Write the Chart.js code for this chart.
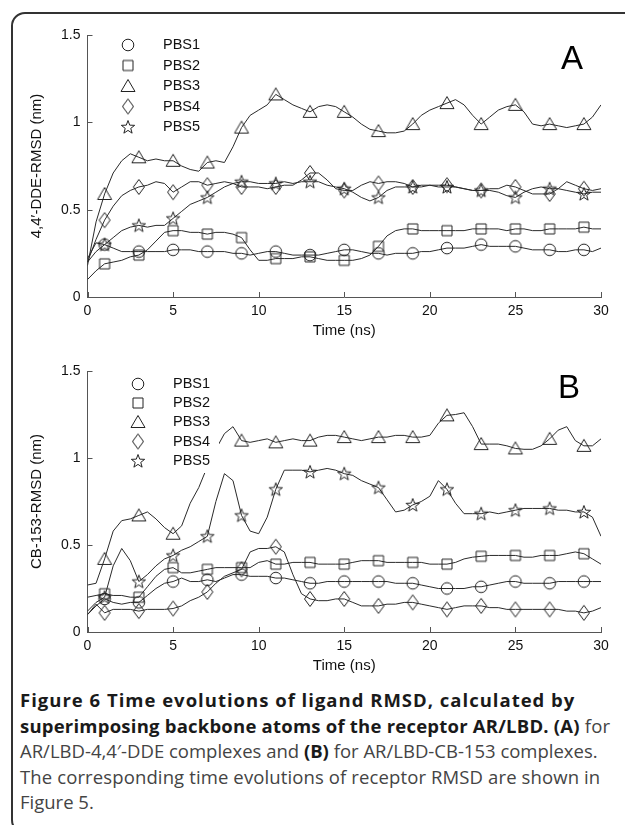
<!DOCTYPE html>
<html>
<head>
<meta charset="utf-8">
<script src="https://cdn.jsdelivr.net/npm/chart.js@4.4.1/dist/chart.umd.min.js"></script>
<style>
  html, body { margin: 0; padding: 0; background: #fff; }
  body { width: 625px; height: 825px; position: relative; overflow: hidden; }
  #frame {
    position: absolute; left: 11px; top: 12px; width: 700px; height: 818px;
    border: 2px solid #333; border-radius: 14px;
  }
  canvas { position: absolute; left: 0; }
  #chartA { top: 0; }
  #chartB { top: 345px; }
  #caption {
    position: absolute; left: 20px; top: 687px;
    font-family: "Open Sans", sans-serif; font-size: 18.5px; line-height: 25.5px;
    color: #444; white-space: nowrap;
  }
  #caption b { color: #1a1a1a; font-weight: 700; }
  #caption .l1 { letter-spacing: 1px; }
  #caption .l2 { letter-spacing: 0.22px; }
  #caption .l4 { letter-spacing: 0.12px; }
</style>
</head>
<body>
<div id="frame"></div>
<canvas id="chartA" width="625" height="345"></canvas>
<canvas id="chartB" width="625" height="335"></canvas>
<div id="caption">
<span class="l1"><b>Figure 6 Time evolutions of ligand RMSD, calculated by</b></span><br>
<span class="l2"><b>superimposing backbone atoms of the receptor AR/LBD. (A)</b> for</span><br>
<span class="l3">AR/LBD-4,4′-DDE complexes and <b>(B)</b> for AR/LBD-CB-153 complexes.</span><br>
<span class="l4">The corresponding time evolutions of receptor RMSD are shown in</span><br>
<span class="l5">Figure 5.</span>
</div>
<script>
// sampling times (ns)
const TIME = [
  0, 0.5, 1, 1.5, 2, 2.5, 3, 3.5, 4, 4.5,
  5, 5.5, 6, 6.5, 7, 7.5, 8, 8.5, 9, 9.5,
  10, 10.5, 11, 11.5, 12, 12.5, 13, 13.5, 14, 14.5,
  15, 15.5, 16, 16.5, 17, 17.5, 18, 18.5, 19, 19.5,
  20, 20.5, 21, 21.5, 22, 22.5, 23, 23.5, 24, 24.5,
  25, 25.5, 26, 26.5, 27, 27.5, 28, 28.5, 29, 29.5,
  30
];
const MARKER_TIMES = [1, 3, 5, 7, 9, 11, 13, 15, 17, 19, 21, 23, 25, 27, 29];
const SERIES_LABELS = ['PBS1', 'PBS2', 'PBS3', 'PBS4', 'PBS5'];
const X_TICKS = [0, 5, 10, 15, 20, 25, 30];
const Y_TICKS = [0, 0.5, 1, 1.5];

// Panel A: 4,4'-DDE
const A_PBS1 = [
  0.22, 0.31, 0.30, 0.28, 0.26, 0.26, 0.26, 0.26, 0.26, 0.26,
  0.27, 0.27, 0.27, 0.26, 0.26, 0.26, 0.26, 0.25, 0.25, 0.24,
  0.25, 0.26, 0.26, 0.25, 0.24, 0.24, 0.24, 0.24, 0.25, 0.26,
  0.27, 0.27, 0.26, 0.25, 0.25, 0.24, 0.25, 0.25, 0.25, 0.26,
  0.26, 0.27, 0.28, 0.28, 0.28, 0.29, 0.30, 0.29, 0.29, 0.29,
  0.29, 0.28, 0.27, 0.27, 0.27, 0.26, 0.26, 0.27, 0.27, 0.26,
  0.28
];
const A_PBS2 = [
  0.10, 0.15, 0.19, 0.20, 0.21, 0.23, 0.24, 0.27, 0.32, 0.37,
  0.38, 0.38, 0.37, 0.37, 0.36, 0.37, 0.37, 0.36, 0.34, 0.27,
  0.21, 0.21, 0.22, 0.22, 0.22, 0.23, 0.23, 0.22, 0.21, 0.21,
  0.21, 0.21, 0.22, 0.24, 0.29, 0.35, 0.38, 0.39, 0.39, 0.38,
  0.38, 0.38, 0.38, 0.38, 0.38, 0.39, 0.39, 0.39, 0.39, 0.38,
  0.39, 0.39, 0.38, 0.38, 0.39, 0.39, 0.39, 0.39, 0.40, 0.39,
  0.39
];
const A_PBS3 = [
  0.18, 0.43, 0.59, 0.71, 0.78, 0.82, 0.80, 0.78, 0.79, 0.78,
  0.78, 0.75, 0.73, 0.72, 0.77, 0.78, 0.77, 0.86, 0.97, 1.04,
  1.07, 1.10, 1.16, 1.13, 1.10, 1.08, 1.06, 1.09, 1.10, 1.09,
  1.06, 1.03, 0.99, 0.96, 0.95, 0.94, 0.94, 0.95, 0.99, 1.04,
  1.07, 1.09, 1.11, 1.13, 1.10, 1.04, 0.99, 1.03, 1.07, 1.09,
  1.10, 1.06, 0.99, 0.98, 0.99, 0.98, 0.97, 0.98, 0.99, 1.03,
  1.10
];
const A_PBS4 = [
  0.20, 0.33, 0.44, 0.52, 0.58, 0.61, 0.63, 0.64, 0.66, 0.65,
  0.60, 0.63, 0.66, 0.66, 0.64, 0.65, 0.66, 0.65, 0.63, 0.63,
  0.63, 0.62, 0.63, 0.64, 0.64, 0.67, 0.71, 0.71, 0.67, 0.62,
  0.61, 0.61, 0.64, 0.66, 0.65, 0.66, 0.66, 0.65, 0.63, 0.63,
  0.64, 0.64, 0.64, 0.63, 0.62, 0.61, 0.61, 0.62, 0.62, 0.64,
  0.63, 0.61, 0.59, 0.59, 0.59, 0.62, 0.66, 0.64, 0.62, 0.61,
  0.62
];
const A_PBS5 = [
  0.20, 0.26, 0.30, 0.34, 0.38, 0.40, 0.41, 0.40, 0.41, 0.41,
  0.45, 0.49, 0.53, 0.55, 0.57, 0.60, 0.63, 0.65, 0.66, 0.66,
  0.65, 0.65, 0.65, 0.66, 0.65, 0.66, 0.66, 0.66, 0.64, 0.63,
  0.62, 0.60, 0.57, 0.55, 0.57, 0.61, 0.63, 0.63, 0.63, 0.64,
  0.64, 0.63, 0.63, 0.63, 0.62, 0.61, 0.61, 0.61, 0.60, 0.58,
  0.57, 0.60, 0.62, 0.63, 0.62, 0.62, 0.61, 0.60, 0.59, 0.60,
  0.60
];

// Panel B: CB-153
const B_PBS1 = [
  0.10, 0.15, 0.19, 0.17, 0.16, 0.17, 0.17, 0.21, 0.25, 0.28,
  0.29, 0.31, 0.29, 0.29, 0.30, 0.29, 0.31, 0.33, 0.33, 0.32,
  0.32, 0.32, 0.31, 0.31, 0.30, 0.29, 0.28, 0.28, 0.29, 0.29,
  0.29, 0.29, 0.29, 0.29, 0.29, 0.29, 0.28, 0.28, 0.28, 0.27,
  0.26, 0.25, 0.25, 0.25, 0.25, 0.26, 0.26, 0.27, 0.28, 0.29,
  0.29, 0.28, 0.28, 0.28, 0.28, 0.29, 0.29, 0.29, 0.29, 0.29,
  0.29
];
const B_PBS2 = [
  0.20, 0.21, 0.22, 0.21, 0.21, 0.20, 0.20, 0.26, 0.32, 0.36,
  0.37, 0.34, 0.34, 0.35, 0.36, 0.37, 0.37, 0.37, 0.37, 0.37,
  0.40, 0.41, 0.39, 0.39, 0.40, 0.40, 0.40, 0.39, 0.39, 0.39,
  0.39, 0.40, 0.41, 0.41, 0.41, 0.40, 0.40, 0.40, 0.40, 0.40,
  0.39, 0.39, 0.39, 0.40, 0.42, 0.43, 0.435, 0.44, 0.44, 0.44,
  0.44, 0.43, 0.43, 0.44, 0.44, 0.44, 0.45, 0.46, 0.45, 0.42,
  0.39
];
const B_PBS3 = [
  0.27, 0.28, 0.42, 0.58, 0.64, 0.65, 0.67, 0.69, 0.65, 0.60,
  0.565, 0.61, 0.74, 0.83, 0.95, 1.05, 1.14, 1.18, 1.10, 1.09,
  1.10, 1.11, 1.09, 1.10, 1.11, 1.10, 1.10, 1.12, 1.13, 1.13,
  1.12, 1.11, 1.10, 1.11, 1.12, 1.12, 1.13, 1.13, 1.12, 1.12,
  1.13, 1.20, 1.245, 1.25, 1.26, 1.18, 1.08, 1.08, 1.08, 1.07,
  1.055, 1.05, 1.05, 1.07, 1.11, 1.16, 1.18, 1.10, 1.07, 1.07,
  1.11
];
const B_PBS4 = [
  0.10, 0.16, 0.11, 0.13, 0.13, 0.13, 0.12, 0.13, 0.13, 0.13,
  0.135, 0.15, 0.18, 0.20, 0.23, 0.28, 0.32, 0.34, 0.36, 0.46,
  0.48, 0.48, 0.49, 0.46, 0.33, 0.22, 0.19, 0.18, 0.18, 0.19,
  0.19, 0.17, 0.15, 0.15, 0.15, 0.16, 0.16, 0.17, 0.17, 0.16,
  0.15, 0.14, 0.13, 0.14, 0.15, 0.15, 0.15, 0.14, 0.14, 0.13,
  0.13, 0.13, 0.13, 0.13, 0.13, 0.13, 0.12, 0.12, 0.11, 0.12,
  0.14
];
const B_PBS5 = [
  0.12, 0.17, 0.20, 0.38, 0.48, 0.41, 0.29, 0.33, 0.38, 0.42,
  0.44, 0.47, 0.49, 0.52, 0.55, 0.75, 0.91, 0.87, 0.67, 0.58,
  0.565, 0.66, 0.82, 0.93, 0.93, 0.93, 0.92, 0.93, 0.94, 0.93,
  0.91, 0.90, 0.87, 0.85, 0.83, 0.76, 0.69, 0.70, 0.73, 0.75,
  0.78, 0.87, 0.82, 0.74, 0.68, 0.68, 0.68, 0.69, 0.68, 0.69,
  0.70, 0.71, 0.71, 0.71, 0.71, 0.70, 0.70, 0.69, 0.69, 0.66,
  0.55
];

const LINE_COLOR = '#2a2a2a';
const MARK_COLOR = '#222';
const TEXT_COLOR = '#111';
const FONT = '"Liberation Sans", Arial, sans-serif';

// open marker glyphs drawn once, used as pointStyle
function makeMarker(kind) {
  const c = document.createElement('canvas');
  c.width = 20; c.height = 20;
  const g = c.getContext('2d');
  g.strokeStyle = MARK_COLOR;
  g.lineWidth = 1;
  g.beginPath();
  if (kind === 'circle') {
    g.arc(10, 10, 5.8, 0, Math.PI * 2);
  } else if (kind === 'square') {
    g.rect(5, 5, 10, 10);
  } else if (kind === 'triangle') {
    g.moveTo(10, 3.5); g.lineTo(17, 15.5); g.lineTo(3, 15.5); g.closePath();
  } else if (kind === 'diamond') {
    g.moveTo(10, 2.5); g.lineTo(15.5, 10); g.lineTo(10, 17.5); g.lineTo(4.5, 10); g.closePath();
  } else if (kind === 'star') {
    for (let i = 0; i < 10; i++) {
      const r = i % 2 ? 2.9 : 7;
      const a = -Math.PI / 2 + i * Math.PI / 5;
      const x = 10 + r * Math.cos(a), y = 10.5 + r * Math.sin(a);
      if (i === 0) g.moveTo(x, y); else g.lineTo(x, y);
    }
    g.closePath();
  }
  g.stroke();
  return c;
}
const MARKERS = ['circle', 'square', 'triangle', 'diamond', 'star'].map(makeMarker);

function markerRadius(c) {
  return MARKER_TIMES.includes(TIME[c.dataIndex]) ? 6 : 0;
}

// inward ticks, legend box and panel letter
const panelDecor = {
  id: 'panelDecor',
  afterDraw(chart, args, opts) {
    const ctx = chart.ctx;
    const xs = chart.scales.x, ys = chart.scales.y;
    const area = chart.chartArea;
    ctx.save();
    ctx.strokeStyle = '#555';
    ctx.lineWidth = 1;
    ctx.beginPath();
    X_TICKS.forEach(v => {
      const px = Math.round(xs.getPixelForValue(v)) + 0.5;
      ctx.moveTo(px, area.bottom); ctx.lineTo(px, area.bottom - 5);
    });
    Y_TICKS.forEach(v => {
      const py = Math.round(ys.getPixelForValue(v)) + 0.5;
      ctx.moveTo(area.left, py); ctx.lineTo(area.left + 5, py);
    });
    ctx.stroke();

    const lg = opts.legend;
    ctx.fillStyle = '#fff';
    ctx.fillRect(lg.box[0], lg.box[1], lg.box[2], lg.box[3]);
    ctx.fillStyle = TEXT_COLOR;
    ctx.font = '14.5px ' + FONT;
    ctx.textBaseline = 'middle';
    ctx.textAlign = 'left';
    chart.data.datasets.forEach((ds, i) => {
      const y = lg.rows[i];
      ctx.drawImage(MARKERS[i], lg.symX - 10, y - 10);
      ctx.fillText(ds.label, lg.textX, y);
    });

    ctx.fillStyle = '#000';
    ctx.font = '33px ' + FONT;
    ctx.textAlign = 'center';
    ctx.fillText(opts.letter, opts.letterX, opts.letterY);
    ctx.restore();
  }
};

function makePanel(id, series, yTitle, topPad, decor) {
  const datasets = series.map((vals, i) => ({
    label: SERIES_LABELS[i],
    data: TIME.map((t, k) => ({ x: t, y: vals[k] })),
    borderColor: LINE_COLOR,
    borderWidth: 1,
    tension: 0,
    pointStyle: MARKERS[i],
    pointRadius: markerRadius,
    pointHoverRadius: markerRadius,
    pointHitRadius: 0
  }));
  return new Chart(document.getElementById(id), {
    type: 'line',
    data: { datasets },
    plugins: [panelDecor],
    options: {
      responsive: false,
      animation: false,
      events: [],
      layout: { padding: { top: topPad, right: 24, bottom: 0, left: 0 } },
      plugins: {
        legend: { display: false },
        tooltip: { enabled: false },
        panelDecor: decor
      },
      scales: {
        x: {
          type: 'linear', min: 0, max: 30,
          afterBuildTicks: s => { s.ticks = X_TICKS.map(v => ({ value: v })); },
          afterFit: s => { s.height = 48; },
          grid: { display: true, drawOnChartArea: false, drawTicks: false },
          border: { display: true, color: '#555', width: 1 },
          ticks: { padding: 6, color: TEXT_COLOR, font: { family: FONT, size: 14 }, maxRotation: 0,
                   callback: v => String(v) },
          title: { display: true, text: 'Time (ns)', color: TEXT_COLOR,
                   font: { family: FONT, size: 15 }, padding: { top: 0, bottom: 5 } }
        },
        y: {
          min: 0, max: 1.5,
          afterBuildTicks: s => { s.ticks = Y_TICKS.map(v => ({ value: v })); },
          afterFit: s => { s.width = 87.5; },
          grid: { display: true, drawOnChartArea: false, drawTicks: false },
          border: { display: true, color: '#555', width: 1 },
          ticks: { padding: 7, color: TEXT_COLOR, font: { family: FONT, size: 14 },
                   callback: v => String(v) },
          title: { display: true, text: yTitle, color: TEXT_COLOR,
                   font: { family: FONT, size: 15 }, padding: { top: 28, bottom: 0 } }
        }
      }
    }
  });
}

makePanel('chartA', [A_PBS1, A_PBS2, A_PBS3, A_PBS4, A_PBS5], '4,4\u2032-DDE-RMSD (nm)', 35, {
  letter: 'A', letterX: 572, letterY: 60,
  legend: { box: [110, 35, 106, 102], symX: 128, textX: 163, rows: [45, 65.5, 86, 106.5, 127] }
});
makePanel('chartB', [B_PBS1, B_PBS2, B_PBS3, B_PBS4, B_PBS5], 'CB-153-RMSD (nm)', 26, {
  letter: 'B', letterX: 569, letterY: 44,
  legend: { box: [118, 26, 101, 102], symX: 138, textX: 173, rows: [39, 58, 77, 96.5, 116] }
});
</script>
</body>
</html>
